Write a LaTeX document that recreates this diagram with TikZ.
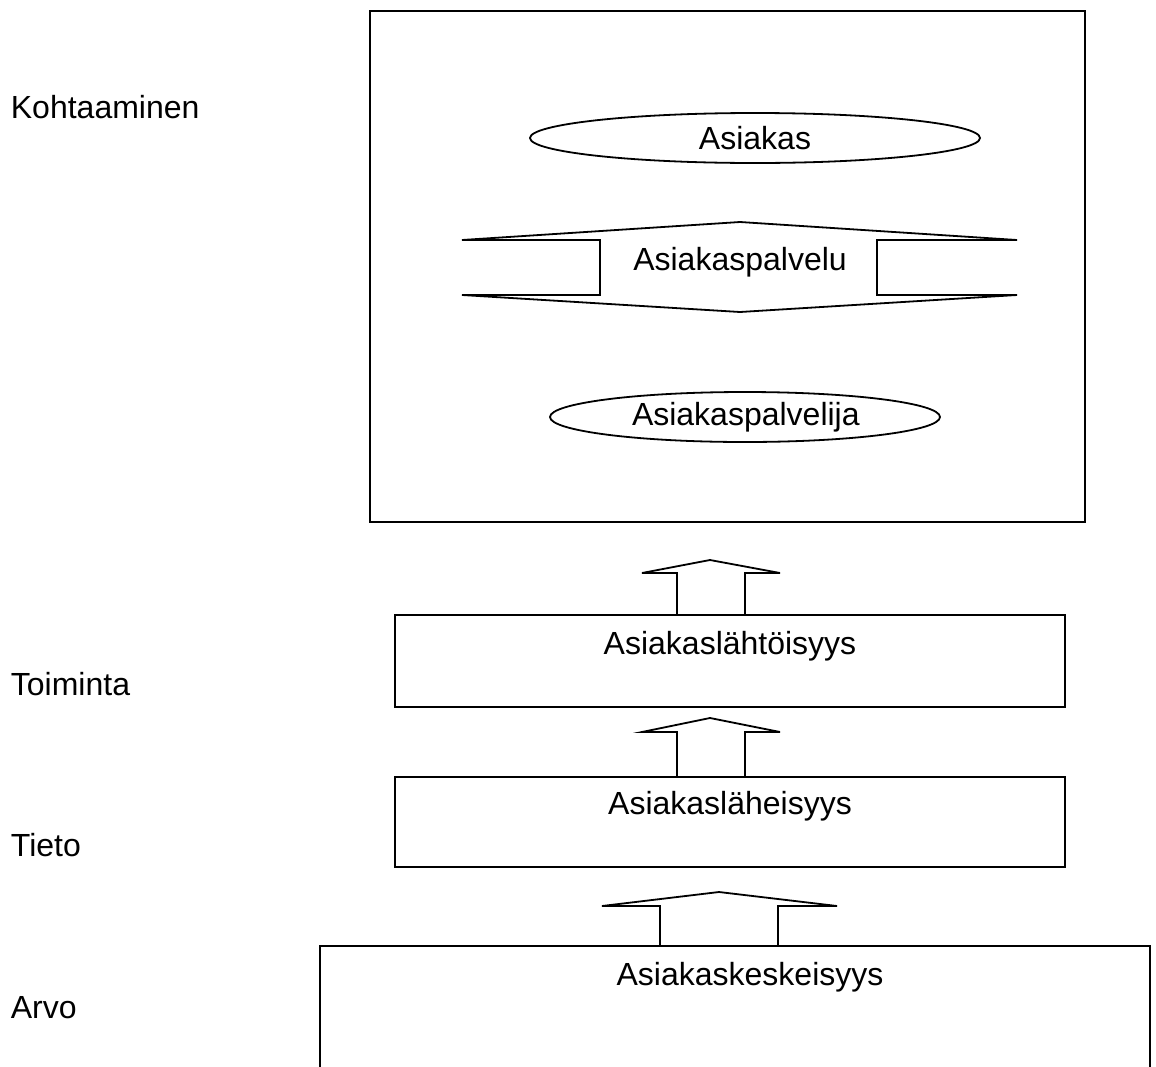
\documentclass[tikz,border=0pt]{standalone}
\usepackage{fontspec}
\setmainfont{Liberation Sans}
\usetikzlibrary{positioning,shapes.geometric}

\begin{document}
\begin{tikzpicture}[
      x=0.5pt, y=-0.5pt,
      line width=0.9pt,
      every node/.style={font=\fontsize{16}{19}\selectfont},
      box/.style={draw, inner sep=0pt},
      oval/.style={draw, ellipse, inner sep=0pt, minimum height=25pt},
      lbl/.style={anchor=west, inner sep=0pt},
      blockarrow/.style={draw, line join=miter}
    ]
    \useasboundingbox (0,0) rectangle (1156,1066);

    % kohtaaminen
    \node[box, minimum width=357.5pt, minimum height=255.5pt] (frame) at (727.5,266.5) {};
    \node[oval, minimum width=225pt] (asiakas) at (755,138) {Asiakas};
    \node[oval, minimum width=195pt, text width=113pt, align=right] (palvelija) at (745,417) {Asiakaspalvelija};
    \draw[blockarrow] (462,240) -- (740,222) -- (1017,240) -- (877,240) -- (877,295)
      -- (1017,295) -- (740,312) -- (462,295) -- (600,295) -- (600,240) -- cycle;
    \node (palvelu) at (740,262) {Asiakaspalvelu};

    % tasot
    \node[box, minimum width=335pt, minimum height=46pt] (lahto) at (730,661) {};
    \node (lahtotxt) at (730,646) {Asiakaslähtöisyys};
    \node[box, minimum width=335pt, minimum height=45pt] (laheis) at (730,822) {};
    \node (laheistxt) at (730,806) {Asiakasläheisyys};
    \coordinate (keskNW) at (320,946);
    \coordinate (keskNE) at (1150,946);
    \draw (320,1080) -- (keskNW) -- (keskNE) -- (1150,1080);
    \node (kesktxt) at (750,977) {Asiakaskeskeisyys};

    % nuolet ylos
    \draw[blockarrow] (677,615) -- (677,573) -- (642,573) -- (710,560) -- (780,573) -- (745,573) -- (745,615);
    \draw[blockarrow] (677,777) -- (677,732) -- (642,732) -- (710,718) -- (780,732) -- (745,732) -- (745,777);
    \draw[blockarrow] (660,946) -- (660,906) -- (602,906) -- (719,892) -- (837,906) -- (778,906) -- (778,946);

    % tasojen nimet
    \node[lbl] (kohtaaminen) at (10,107) {Kohtaaminen};
    \node[lbl] (toiminta) at (10,684) {Toiminta};
    \node[lbl] (tieto) at (10,845) {Tieto};
    \node[lbl] (arvo) at (10,1008) {Arvo};
  \end{tikzpicture}
\end{document}
